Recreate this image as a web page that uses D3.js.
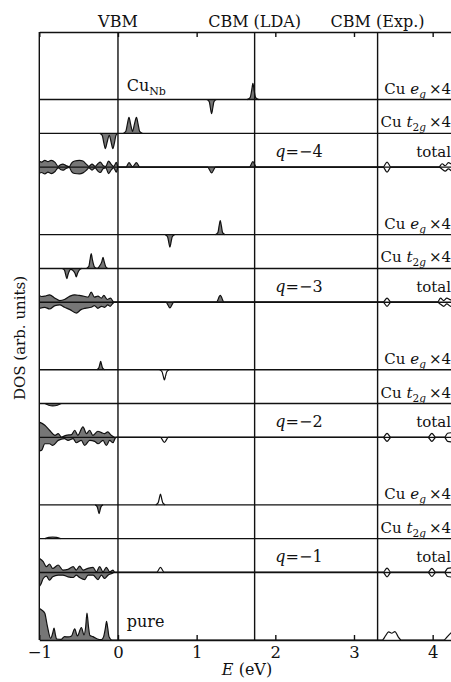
<!DOCTYPE html>
<html>
<head>
<meta charset="utf-8">
<script src="https://cdn.jsdelivr.net/npm/d3@7"></script>
<style>
  body { margin: 0; background: #fff; }
  text { font-family: "DejaVu Serif", serif; fill: #111; }
</style>
</head>
<body>
<div id="chart"></div>
<script>
// energy axis
const energyTicks = [-1, 0, 1, 2, 3, 4]
const refEnergies = [0, 1.737, 3.30]
const refLabels = ['VBM', 'CBM (LDA)', 'CBM (Exp.)']

// charge states, bottom group first, and where the occupied (filled) states end
const charges = [-1, -2, -3, -4]
const occupiedUpTo = [0.40, 0.40, 1.40, 1.80]
const pureOccupiedUpTo = 0

// DOS curves as [E (eV), DOS (arb.)], spin down negative
const pureDos = [[-1.02,0.95],[-0.97,0.89],[-0.93,0.79],[-0.90,0.44],[-0.855,0.05],[-0.83,0.2],[-0.813,0.35],[-0.795,0.15],[-0.78,0.03],[-0.72,0.02],[-0.68,0.10],[-0.635,0.09],[-0.59,0.12],[-0.55,0.33],[-0.516,0.12],[-0.465,0.37],[-0.432,0.15],[-0.41,0.4],[-0.394,0.80],[-0.375,0.4],[-0.356,0.13],[-0.318,0.10],[-0.262,0.03],[-0.211,0.01],[-0.182,0.10],[-0.16,0.35],[-0.145,0.55],[-0.13,0.35],[-0.114,0.10],[-0.076,0],
  [3.36,0],[3.40,0.12],[3.44,0.24],[3.48,0.20],[3.52,0.25],[3.56,0.10],[3.60,0],[4.14,0],[4.18,0.08],[4.22,0.18],[4.32,0.30]]

// q = -1
const qm1TotUp = [[-1.0,0.42],[-0.95,0.32],[-0.91,0.17],[-0.87,0.25],[-0.83,0.12],[-0.76,0.22],[-0.70,0.07],[-0.635,0.09],[-0.57,0.17],[-0.53,0.07],[-0.487,0.19],[-0.444,0.07],[-0.381,0.12],[-0.317,0.15],[-0.275,0.02],[-0.233,0.17],[-0.19,0.02],[-0.148,0.15],[-0.105,0.02],[-0.063,0.07],[-0.04,0],
  [0.49,0],[0.54,0.15],[0.59,0],[3.37,0],[3.42,0.13],[3.47,0],[3.94,0],[3.99,0.12],[4.04,0],[4.15,0],[4.19,0.12],[4.25,0.14],[4.32,0.16]]
const qm1TotDn = [[-1.0,-0.42],[-0.98,-0.35],[-0.95,-0.18],[-0.91,-0.11],[-0.87,-0.23],[-0.83,-0.13],[-0.76,-0.08],[-0.70,-0.08],[-0.635,-0.13],[-0.57,-0.15],[-0.53,-0.08],[-0.487,-0.15],[-0.423,-0.21],[-0.381,-0.08],[-0.317,-0.08],[-0.254,-0.21],[-0.211,-0.08],[-0.169,-0.18],[-0.127,-0.08],[-0.076,-0.03],[-0.05,0],
  [3.37,0],[3.42,-0.13],[3.47,0],[3.94,0],[3.99,-0.12],[4.04,0],[4.15,0],[4.19,-0.12],[4.25,-0.14],[4.32,-0.16]]
const qm1T2gUp = [[-0.93,0],[-0.88,0.04],[-0.83,0.05],[-0.78,0.04],[-0.73,0]]
const qm1T2gDn = []
const qm1EgUp = [[0.48,0],[0.51,0.06],[0.525,0.19],[0.54,0.32],[0.555,0.19],[0.57,0.06],[0.60,0]]
const qm1EgDn = [[-0.29,0],[-0.265,-0.05],[-0.252,-0.16],[-0.24,-0.26],[-0.228,-0.16],[-0.215,-0.05],[-0.19,0]]

// q = -2
const qm2TotUp = [[-1.0,0.45],[-0.93,0.36],[-0.87,0.21],[-0.80,0.06],[-0.76,0.11],[-0.72,0.01],[-0.66,0.06],[-0.59,0.08],[-0.55,0.21],[-0.51,0.06],[-0.445,0.31],[-0.40,0.11],[-0.36,0.21],[-0.32,0.06],[-0.255,0.18],[-0.21,0.14],[-0.17,0.11],[-0.13,0.16],[-0.085,0.06],[-0.04,0],
  [3.37,0],[3.42,0.12],[3.47,0],[3.94,0],[3.99,0.12],[4.04,0],[4.15,0],[4.19,0.12],[4.25,0.14],[4.32,0.16]]
const qm2TotDn = [[-1.0,-0.40],[-0.97,-0.38],[-0.93,-0.19],[-0.87,-0.19],[-0.83,-0.24],[-0.76,-0.09],[-0.68,-0.04],[-0.635,-0.09],[-0.57,-0.04],[-0.53,-0.16],[-0.466,-0.09],[-0.423,-0.24],[-0.36,-0.09],[-0.296,-0.12],[-0.254,-0.19],[-0.19,-0.09],[-0.148,-0.24],[-0.106,-0.09],[-0.063,-0.16],[-0.034,-0.02],[-0.02,0],
  [0.54,0],[0.59,-0.15],[0.64,0],[3.37,0],[3.42,-0.12],[3.47,0],[3.94,0],[3.99,-0.12],[4.04,0],[4.15,0],[4.19,-0.12],[4.25,-0.14],[4.32,-0.16]]
const qm2T2gUp = []
const qm2T2gDn = [[-0.93,0],[-0.88,-0.05],[-0.83,-0.07],[-0.77,-0.05],[-0.72,0]]
const qm2EgUp = [[-0.27,0],[-0.245,0.05],[-0.232,0.15],[-0.22,0.25],[-0.208,0.15],[-0.195,0.05],[-0.17,0]]
const qm2EgDn = [[0.53,0],[0.56,-0.06],[0.575,-0.18],[0.59,-0.30],[0.605,-0.18],[0.62,-0.06],[0.65,0]]

// q = -3
const qm3TotUp = [[-1.0,0.20],[-0.97,0.17],[-0.93,0.18],[-0.87,0.22],[-0.80,0.12],[-0.74,0.05],[-0.68,0.08],[-0.61,0.18],[-0.55,0.22],[-0.49,0.20],[-0.42,0.17],[-0.38,0.15],[-0.34,0.30],[-0.30,0.15],[-0.255,0.18],[-0.21,0.12],[-0.18,0.20],[-0.135,0.08],[-0.095,0.12],[-0.06,0.02],[-0.045,0],
  [1.25,0],[1.30,0.20],[1.35,0],[3.37,0],[3.42,0.12],[3.47,0],[4.06,0],[4.10,0.12],[4.14,0.05],[4.18,0.12],[4.23,0.07],[4.32,0.14]]
const qm3TotDn = [[-1.0,-0.18],[-0.93,-0.15],[-0.87,-0.20],[-0.80,-0.10],[-0.74,-0.08],[-0.68,-0.15],[-0.61,-0.22],[-0.53,-0.32],[-0.47,-0.22],[-0.42,-0.18],[-0.34,-0.15],[-0.30,-0.10],[-0.255,-0.18],[-0.21,-0.12],[-0.17,-0.15],[-0.13,-0.08],[-0.10,-0.12],[-0.06,-0.02],[-0.045,0],
  [0.61,0],[0.66,-0.17],[0.71,0],[3.37,0],[3.42,-0.12],[3.47,0],[4.06,0],[4.10,-0.06],[4.14,-0.12],[4.18,-0.05],[4.23,-0.12],[4.32,-0.10]]
const qm3T2gUp = [[-0.40,0],[-0.37,0.06],[-0.355,0.26],[-0.34,0.44],[-0.325,0.26],[-0.30,0.05],[-0.265,0],[-0.24,0.05],[-0.205,0.2],[-0.19,0.33],[-0.175,0.2],[-0.155,0.05],[-0.13,0]]
const qm3T2gDn = [[-0.71,0],[-0.68,-0.05],[-0.665,-0.18],[-0.65,-0.30],[-0.635,-0.18],[-0.60,-0.03],[-0.575,-0.05],[-0.545,-0.15],[-0.53,-0.25],[-0.515,-0.15],[-0.49,-0.04],[-0.46,0]]
const qm3EgUp = [[1.24,0],[1.27,0.06],[1.285,0.25],[1.30,0.42],[1.315,0.25],[1.33,0.06],[1.36,0]]
const qm3EgDn = [[0.60,0],[0.63,-0.06],[0.645,-0.22],[0.66,-0.37],[0.675,-0.22],[0.69,-0.06],[0.72,0]]

// q = -4
const qm4TotUp = [[-1.0,0.17],[-0.97,0.15],[-0.93,0.20],[-0.89,0.16],[-0.85,0.20],[-0.80,0.14],[-0.76,0.02],[-0.73,0.07],[-0.70,0.09],[-0.665,0.05],[-0.62,0.01],[-0.59,0.12],[-0.55,0.18],[-0.49,0.20],[-0.445,0.18],[-0.40,0.08],[-0.37,0.02],[-0.33,0.09],[-0.29,0.02],[-0.255,0.10],[-0.225,0.15],[-0.19,0.05],[-0.155,0.02],[-0.12,0.18],[-0.085,0.08],[-0.055,0.02],[-0.02,0.14],[0.0,0],
  [0.10,0],[0.14,0.13],[0.185,0.01],[0.235,0.13],[0.28,0],[1.67,0],[1.715,0.16],[1.76,0],[3.37,0],[3.42,0.15],[3.47,0],[4.08,0],[4.12,0.10],[4.16,0.04],[4.20,0.13],[4.25,0.08],[4.32,0.15]]
const qm4TotDn = [[-1.0,-0.18],[-0.97,-0.16],[-0.93,-0.20],[-0.89,-0.15],[-0.85,-0.19],[-0.80,-0.13],[-0.76,-0.02],[-0.73,-0.07],[-0.70,-0.09],[-0.665,-0.05],[-0.62,-0.01],[-0.59,-0.13],[-0.55,-0.19],[-0.49,-0.20],[-0.445,-0.17],[-0.40,-0.09],[-0.37,-0.02],[-0.33,-0.09],[-0.29,-0.02],[-0.255,-0.12],[-0.225,-0.16],[-0.19,-0.05],[-0.155,-0.02],[-0.12,-0.19],[-0.085,-0.08],[-0.055,-0.02],[-0.02,-0.15],[0.0,0],
  [1.14,0],[1.19,-0.17],[1.24,0],[3.37,0],[3.42,-0.15],[3.47,0],[4.08,0],[4.12,-0.06],[4.16,-0.12],[4.20,-0.05],[4.25,-0.12],[4.32,-0.10]]
const qm4T2gUp = [[0.07,0],[0.10,0.06],[0.12,0.28],[0.14,0.47],[0.16,0.28],[0.185,0.06],[0.21,0.28],[0.235,0.47],[0.255,0.28],[0.275,0.06],[0.31,0]]
const qm4T2gDn = [[-0.23,0],[-0.20,-0.06],[-0.18,-0.28],[-0.16,-0.45],[-0.14,-0.28],[-0.11,-0.06],[-0.085,-0.28],[-0.065,-0.45],[-0.045,-0.28],[-0.025,-0.06],[0.0,0]]
const qm4EgUp = [[1.64,0],[1.68,0.06],[1.70,0.28],[1.715,0.48],[1.73,0.28],[1.75,0.06],[1.79,0]]
const qm4EgDn = [[1.13,0],[1.16,-0.06],[1.175,-0.25],[1.19,-0.42],[1.205,-0.25],[1.22,-0.06],[1.25,0]]

const groups = [
  {tot: [qm1TotUp, qm1TotDn], t2g: [qm1T2gUp, qm1T2gDn], eg: [qm1EgUp, qm1EgDn]},
  {tot: [qm2TotUp, qm2TotDn], t2g: [qm2T2gUp, qm2T2gDn], eg: [qm2EgUp, qm2EgDn]},
  {tot: [qm3TotUp, qm3TotDn], t2g: [qm3T2gUp, qm3T2gDn], eg: [qm3EgUp, qm3EgDn]},
  {tot: [qm4TotUp, qm4TotDn], t2g: [qm4T2gUp, qm4T2gDn], eg: [qm4EgUp, qm4EgDn]}
]

const W = 451, H = 682
const mLeft = 39.3, mTop = 32, mBottom = 640

const x = d3.scaleLinear().domain([-1, 4.5]).range([mLeft, 472])
const y = d3.scaleLinear().domain([0, 18]).range([mBottom, mTop])

const svg = d3.select('#chart').append('svg')
  .attr('width', W).attr('height', H)

const defs = svg.append('defs')
defs.append('clipPath').attr('id', 'plotclip')
  .append('rect')
  .attr('x', x(-1)).attr('y', mTop)
  .attr('width', x(4.5) - x(-1)).attr('height', mBottom - mTop)

function fillClip(id, eMax) {
  defs.append('clipPath').attr('id', id)
    .append('rect')
    .attr('x', x(-1)).attr('y', mTop)
    .attr('width', x(eMax) - x(-1)).attr('height', mBottom - mTop)
}

const plot = svg.append('g').attr('clip-path', 'url(#plotclip)')

function drawCurve(pts, base, clipId) {
  if (!pts.length) return
  const area = d3.area().curve(d3.curveMonotoneX)
    .x(d => x(d[0])).y0(y(base)).y1(d => y(base + d[1]))
  const line = d3.line().curve(d3.curveMonotoneX)
    .x(d => x(d[0])).y(d => y(base + d[1]))
  plot.append('g').attr('clip-path', 'url(#' + clipId + ')')
    .append('path').datum(pts).attr('d', area)
    .attr('fill', '#767676')
  plot.append('path').datum(pts).attr('d', line)
    .attr('fill', 'none').attr('stroke', '#111').attr('stroke-width', 1.2)
}

// pure panel
fillClip('fill-pure', pureOccupiedUpTo)
drawCurve(pureDos, 0, 'fill-pure')

const baselines = []
groups.forEach((g, i) => {
  const b = 2 + 4 * i
  const id = 'fill-q' + i
  fillClip(id, occupiedUpTo[i])
  g.tot.forEach(c => drawCurve(c, b, id))
  g.t2g.forEach(c => drawCurve(c, b + 1, id))
  g.eg.forEach(c => drawCurve(c, b + 2, id))
  baselines.push(b, b + 1, b + 2)
})

// baselines of every panel
plot.selectAll('line.base')
  .data(baselines)
  .enter().append('line')
  .attr('class', 'base')
  .attr('x1', x(-1)).attr('x2', x(4.5))
  .attr('y1', d => y(d)).attr('y2', d => y(d))
  .attr('stroke', '#111').attr('stroke-width', 1.4)

// VBM / CBM lines
plot.selectAll('line.ref')
  .data(refEnergies)
  .enter().append('line')
  .attr('class', 'ref')
  .attr('x1', d => x(d)).attr('x2', d => x(d))
  .attr('y1', mTop).attr('y2', mBottom)
  .attr('stroke', '#111').attr('stroke-width', 1.4)

svg.selectAll('text.ref')
  .data(refEnergies)
  .enter().append('text')
  .attr('class', 'ref')
  .attr('x', d => x(d)).attr('y', 26.5)
  .attr('text-anchor', 'middle')
  .style('font-size', '16px')
  .text((d, i) => refLabels[i])

// axes
const xAxis = d3.axisBottom(x).tickValues(energyTicks)
  .tickSizeInner(-5).tickSizeOuter(0).tickPadding(6)
  .tickFormat(d3.format('d'))
const gx = svg.append('g').attr('transform', 'translate(0,' + mBottom + ')').call(xAxis)
gx.selectAll('text').style('font-size', '16.5px').style('font-family', '"DejaVu Serif", serif').attr('fill', '#111')

const xTop = d3.axisTop(x).tickValues(energyTicks)
  .tickSizeInner(-5).tickSizeOuter(0).tickFormat('')
svg.append('g').attr('transform', 'translate(0,' + mTop + ')').call(xTop)

svg.selectAll('.domain, .tick line').attr('stroke', '#111').attr('stroke-width', 1.4)

svg.append('line')
  .attr('x1', mLeft).attr('x2', mLeft).attr('y1', mTop).attr('y2', mBottom)
  .attr('stroke', '#111').attr('stroke-width', 1.4)

// axis titles
const xt = svg.append('text').attr('x', 247).attr('y', 675)
  .attr('text-anchor', 'middle').style('font-size', '16px')
xt.append('tspan').style('font-style', 'italic').text('E')
xt.append('tspan').text(' (eV)')

svg.append('text')
  .attr('transform', 'translate(25,338) rotate(-90)')
  .attr('text-anchor', 'middle').style('font-size', '15px')
  .text('DOS (arb. units)')

// panel labels
const xr = 451
groups.forEach((g, i) => {
  const b = 2 + 4 * i

  const qt = svg.append('text').attr('x', x(2.0)).attr('y', y(b) - 10)
    .style('font-size', '16px')
  qt.append('tspan').style('font-style', 'italic').text('q')
  qt.append('tspan').text('=\u2212' + Math.abs(charges[i]))

  svg.append('text').attr('x', xr).attr('y', y(b) - 10)
    .attr('text-anchor', 'end').style('font-size', '15px').text('total')

  const t2 = svg.append('text').attr('x', xr).attr('y', y(b + 1) - 6)
    .attr('text-anchor', 'end').style('font-size', '15px')
  t2.append('tspan').text('Cu ')
  t2.append('tspan').style('font-style', 'italic').text('t')
  t2.append('tspan').style('font-size', '10.5px').attr('dy', 4).text('2')
  t2.append('tspan').style('font-size', '10.5px').style('font-style', 'italic').text('g')
  t2.append('tspan').attr('dy', -4).text('\u2009\u00d74')

  const eg = svg.append('text').attr('x', xr).attr('y', y(b + 2) - 6)
    .attr('text-anchor', 'end').style('font-size', '15px')
  eg.append('tspan').text('Cu ')
  eg.append('tspan').style('font-style', 'italic').text('e')
  eg.append('tspan').style('font-size', '10.5px').style('font-style', 'italic').attr('dy', 4).text('g')
  eg.append('tspan').attr('dy', -4).text('\u2009\u00d74')
})

const cu = svg.append('text').attr('x', 126.7).attr('y', y(16) - 9)
  .style('font-size', '16px')
cu.append('tspan').text('Cu')
cu.append('tspan').style('font-size', '11px').attr('dy', 4).text('Nb')

svg.append('text').attr('x', 126.7).attr('y', y(0) - 13)
  .style('font-size', '16px').text('pure')
</script>
</body>
</html>
